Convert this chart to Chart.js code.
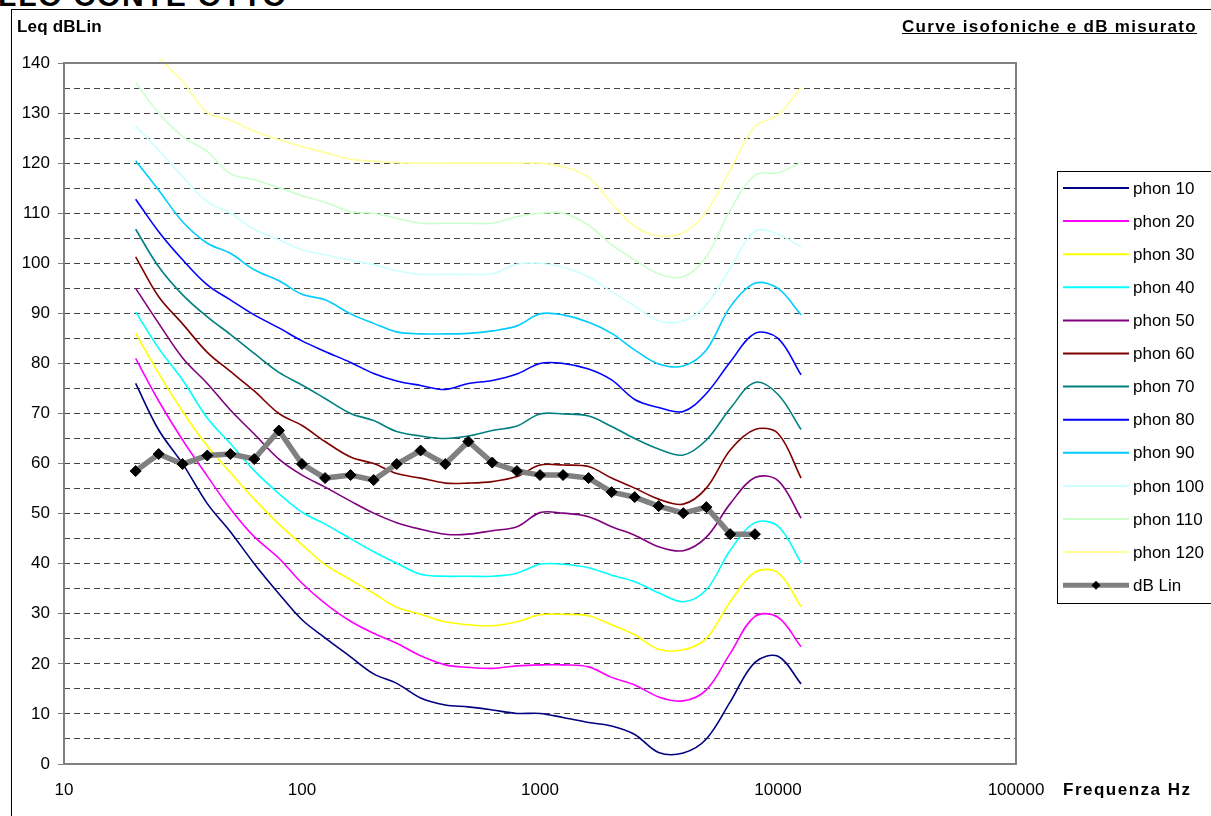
<!DOCTYPE html>
<html>
<head>
    <title>Curve isofoniche e dB misurato</title>
    <script src="https://cdn.jsdelivr.net/npm/chart.js"></script>
    <style>
        body { margin: 0; width: 1211px; height: 816px; overflow: hidden; background: #fff; font-family: 'Liberation Sans', Arial, sans-serif; position: relative; }
        .frame { position: absolute; left: 11px; top: 9px; width: 1400px; height: 1000px; border-left: 1px solid #000; border-top: 1px solid #000; }
        .page-title { position: absolute; left: -2px; top: -19px; font: bold 30px/30px 'Liberation Sans', Arial, sans-serif; letter-spacing: 1.8px; white-space: nowrap; }
        .lbl { position: absolute; font: bold 17px/20px 'Liberation Sans', Arial, sans-serif; white-space: nowrap; }
        #wrap { position: absolute; left: 0; top: 0; width: 1211px; height: 816px; }
    </style>
</head>
<body>
    <div class="page-title">LLO CONTE OTTO</div>
    <div class="frame"></div>
    <div id="wrap"><canvas id="isoChart" width="1211" height="816"></canvas></div>
    <div class="lbl" style="left:17px; top:17px; letter-spacing:0.2px;">Leq dBLin</div>
    <div class="lbl" style="right:14px; top:17px; letter-spacing:1.3px; text-decoration: underline;">Curve isofoniche e dB misurato</div>
    <div class="lbl" style="left:1063px; top:780px; letter-spacing:1.5px;">Frequenza Hz</div>

    <script>
        // ===== DATA =====
        const freqs = [20, 25, 31.5, 40, 50, 63, 80, 100, 125, 160, 200, 250, 315, 400, 500, 630, 800,
                       1000, 1250, 1600, 2000, 2500, 3150, 4000, 5000, 6300, 8000, 10000, 12500];

        const phon10  = [76, 66.7, 60, 52, 46.4, 40, 34, 28.8, 25.2, 21.4, 18, 16.1, 13.2, 11.8, 11.4, 10.8, 10.1, 10.1, 9.3, 8.3, 7.6, 5.9, 2.3, 2.2, 5, 12.4, 20.3, 21.5, 16];
        const phon20  = [81, 72.5, 64.7, 57.5, 51, 45.4, 41.1, 36.1, 32.1, 28.5, 26.1, 24.1, 21.6, 19.8, 19.3, 19.1, 19.6, 19.8, 19.8, 19.4, 17.3, 15.8, 13.4, 12.6, 14.8, 22.1, 29.5, 29.3, 23.4];
        const phon30  = [86, 78, 70.4, 63.5, 58.2, 52.9, 47.9, 43.8, 39.8, 36.8, 34.1, 31.3, 29.9, 28.4, 27.8, 27.6, 28.4, 29.8, 29.9, 29.6, 27.8, 25.8, 22.9, 22.8, 25.1, 32.4, 38.3, 38.2, 31.4];
        const phon40  = [90.3, 83, 76.7, 69.1, 64, 58.6, 54, 50.3, 47.9, 45, 42.4, 40.1, 37.9, 37.5, 37.5, 37.5, 38.1, 39.9, 39.9, 39.2, 37.7, 36.4, 34.2, 32.4, 34.8, 42.7, 48.2, 47.5, 40.2];
        const phon50  = [95, 88, 81.1, 76, 70.7, 65.9, 60.9, 57.7, 55.3, 52.5, 50.1, 48.2, 46.9, 45.9, 45.9, 46.6, 47.4, 50.2, 50.1, 49.4, 47.4, 45.7, 43.4, 42.6, 45.3, 52, 57.2, 56.6, 49.1];
        const phon60  = [101.3, 93.3, 87.9, 82.2, 78.4, 74.5, 70, 67.6, 64.4, 61.3, 60, 58, 57.1, 56.1, 56.1, 56.4, 57.4, 59.7, 59.7, 59.4, 57.1, 55.1, 52.9, 51.9, 55.1, 62.7, 66.8, 66, 57.1];
        const phon70  = [106.8, 99.3, 93.7, 89.3, 85.8, 82, 78.2, 75.7, 73, 70, 68.6, 66.4, 65.5, 65, 65.5, 66.6, 67.5, 69.9, 69.9, 69.5, 67.4, 65, 62.9, 61.7, 64.7, 71, 76.2, 73.8, 66.8];
        const phon80  = [112.8, 106.3, 100.7, 95.7, 92.7, 89.7, 87.1, 84.5, 82.4, 80.2, 78, 76.5, 75.6, 74.8, 76, 76.6, 77.9, 80, 80, 78.9, 76.7, 72.8, 71.2, 70.4, 74, 80.3, 86, 85, 77.7];
        const phon90  = [120.5, 114.6, 108.3, 104, 102, 98.7, 96.5, 93.8, 92.7, 89.9, 88, 86.3, 85.9, 85.9, 86, 86.5, 87.5, 89.9, 89.7, 88.2, 86, 82.7, 79.9, 79.5, 82.7, 91.3, 96, 95, 89.7];
        const phon100 = [127.4, 122.6, 117.3, 112.3, 110, 106.8, 104.7, 102.7, 101.7, 100.6, 99.7, 98.5, 97.8, 97.8, 97.8, 97.9, 99.8, 100, 99.2, 97.3, 94.3, 91.5, 88.5, 88.5, 91.7, 99, 106.4, 105.8, 103.3];
        const phon110 = [136.1, 130, 125.3, 122.3, 117.9, 116.7, 115.1, 113.5, 112.2, 110.3, 110, 109, 108, 108, 108, 108, 109.3, 110, 110, 107.6, 103.7, 100.7, 97.9, 97.3, 101.3, 110.6, 117.6, 118.1, 120.1];
        const phon120 = [null, 141, 136.3, 130.1, 128.6, 126.4, 124.7, 123.3, 122.1, 120.8, 120.4, 120.1, 120, 120, 120, 120, 120, 120, 119.3, 117.2, 112, 107.4, 105.5, 106.1, 110.3, 118.6, 127.3, 129.6, 135.1];

        // measured levels, 20 Hz .. 8000 Hz
        const dbLin = [58.5, 61.9, 59.9, 61.6, 61.9, 60.9, 66.6, 59.9, 57.1, 57.7, 56.7, 59.9, 62.6, 59.9, 64.4, 60.2, 58.5,
                       57.7, 57.7, 57.1, 54.3, 53.3, 51.5, 50.1, 51.3, 45.9, 45.9];

        const phonCurves = [phon10, phon20, phon30, phon40, phon50, phon60, phon70, phon80, phon90, phon100, phon110, phon120];
        const phonLabels = ['phon 10', 'phon 20', 'phon 30', 'phon 40', 'phon 50', 'phon 60', 'phon 70', 'phon 80', 'phon 90', 'phon 100', 'phon 110', 'phon 120'];
        const phonColors = ['#000080', '#FF00FF', '#FFFF00', '#00FFFF', '#800080', '#800000', '#008080', '#0000FF', '#00CCFF', '#CCFFFF', '#CCFFCC', '#FFFF99'];
        const xTicks = [10, 100, 1000, 10000, 100000];

        const toPoints = (vals) => vals.map((v, i) => ({ x: freqs[i], y: v }));

        const datasets = phonCurves.map((vals, i) => ({
            label: phonLabels[i],
            data: toPoints(vals),
            borderColor: phonColors[i],
            backgroundColor: phonColors[i],
            borderWidth: 1.6,
            pointRadius: 0,
            tension: 0.35,
            fill: false,
            clip: { left: 0, top: 6, right: 0, bottom: 0 }
        }));
        datasets.push({
            label: 'dB Lin',
            data: toPoints(dbLin),
            borderColor: '#808080',
            backgroundColor: '#000',
            borderWidth: 5.5,
            pointStyle: 'rectRot',
            pointRadius: 5.5,
            pointBackgroundColor: '#000',
            pointBorderColor: '#000',
            pointBorderWidth: 1,
            tension: 0,
            order: -1
        });

        // ===== PLOT FRAME + LEGEND =====
        const framePlugin = {
            id: 'frame',
            afterDatasetsDraw(chart) {
                const { ctx, chartArea: a } = chart;
                ctx.save();
                ctx.strokeStyle = '#808080';
                ctx.lineWidth = 2;
                ctx.strokeRect(a.left, a.top, a.right - a.left, a.bottom - a.top);
                ctx.restore();
            },
            afterDraw(chart) {
                const ctx = chart.ctx;
                ctx.save();
                ctx.strokeStyle = '#000';
                ctx.lineWidth = 1;
                ctx.strokeRect(1057.5, 171.5, 200, 432);
                ctx.font = "17px 'Liberation Sans', Arial, sans-serif";
                ctx.textBaseline = 'middle';
                chart.data.datasets.forEach((ds, i) => {
                    const y = 188 + i * 33.1;
                    ctx.strokeStyle = ds.borderColor;
                    ctx.lineWidth = ds.label === 'dB Lin' ? 5 : 2;
                    ctx.beginPath();
                    ctx.moveTo(1063, y);
                    ctx.lineTo(1129, y);
                    ctx.stroke();
                    if (ds.label === 'dB Lin') {
                        ctx.fillStyle = '#000';
                        ctx.beginPath();
                        ctx.moveTo(1096, y - 4.5);
                        ctx.lineTo(1100.5, y);
                        ctx.lineTo(1096, y + 4.5);
                        ctx.lineTo(1091.5, y);
                        ctx.closePath();
                        ctx.fill();
                    }
                    ctx.fillStyle = '#000';
                    ctx.fillText(ds.label, 1133, y + 1);
                });
                ctx.restore();
            }
        };

        Chart.defaults.font.family = "'Liberation Sans', Arial, sans-serif";
        Chart.defaults.font.size = 17;
        Chart.defaults.color = '#000';

        new Chart(document.getElementById('isoChart'), {
            type: 'line',
            data: { datasets },
            plugins: [framePlugin],
            options: {
                responsive: false,
                animation: false,
                layout: { padding: { left: 0, top: 63, right: 195, bottom: 0 } },
                plugins: { legend: { display: false }, tooltip: { enabled: false } },
                scales: {
                    x: {
                        type: 'logarithmic',
                        min: 10,
                        max: 100000,
                        afterBuildTicks: (scale) => { scale.ticks = xTicks.map(v => ({ value: v })); },
                        afterFit: (scale) => { scale.height = 52; },
                        ticks: { callback: (v) => String(v), maxRotation: 0, autoSkip: false, padding: 16, font: { size: 17 } },
                        grid: { display: false, drawTicks: false },
                        border: { display: false }
                    },
                    y: {
                        min: 0,
                        max: 140,
                        afterFit: (scale) => { scale.width = 64; },
                        ticks: {
                            stepSize: 5,
                            autoSkip: false,
                            padding: 8,
                            font: { size: 17 },
                            callback: (v) => (v % 10 === 0 ? String(v) : '')
                        },
                        grid: {
                            color: (c) => (c.tick && (c.tick.value === 0 || c.tick.value === 140) ? 'rgba(0,0,0,0)' : '#444'),
                            tickColor: (c) => (c.tick && c.tick.value % 10 === 0 ? '#808080' : 'rgba(0,0,0,0)'),
                            tickLength: 6,
                            lineWidth: 1
                        },
                        border: { display: false, dash: [6, 4] }
                    }
                }
            }
        });
    </script>
</body>
</html>
